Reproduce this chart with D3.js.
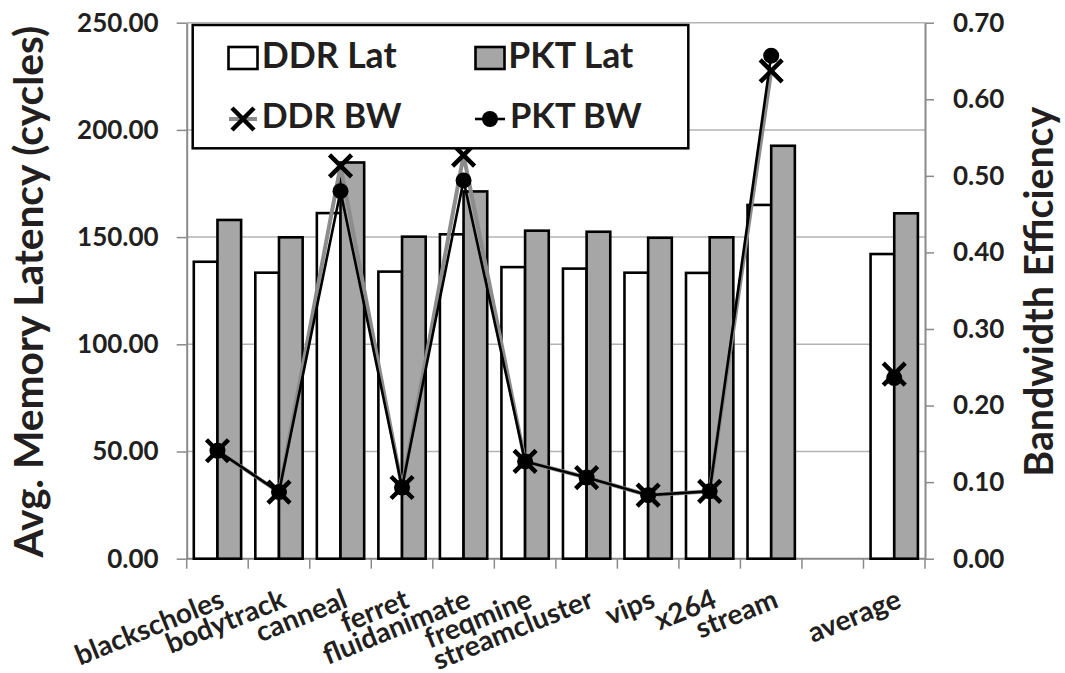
<!DOCTYPE html>
<html>
<head>
<meta charset="utf-8">
<script src="https://cdn.jsdelivr.net/npm/d3@7"></script>
<style>
  body { margin: 0; background: #fff; }
  svg { display: block; }
  text { font-family: Lato, "Open Sans", sans-serif; font-weight: 700; fill: #231f20; }
</style>
</head>
<body>
<svg id="chart" width="1065" height="673"></svg>
<script>
// Benchmarks (one empty slot separates the suite from the average)
const categories = ["blackscholes", "bodytrack", "canneal", "ferret", "fluidanimate",
  "freqmine", "streamcluster", "vips", "x264", "stream", "", "average"];

// Average memory latency, cycles (left axis)
const ddrLat = [138.5, 133.4, 161.2, 133.9, 151.3, 136.0, 135.3, 133.4, 133.3, 165.0, null, 142.1];
const pktLat = [158.0, 149.9, 184.8, 150.2, 171.3, 153.0, 152.5, 149.7, 149.9, 192.6, null, 161.1];

// Bandwidth efficiency (right axis)
const ddrBW = [0.141, 0.087, 0.513, 0.093, 0.527, 0.127, 0.106, 0.083, 0.088, 0.637, null, 0.241];
const pktBW = [0.141, 0.087, 0.480, 0.093, 0.494, 0.127, 0.106, 0.083, 0.088, 0.657, null, 0.236];

const latTicks = [0, 50, 100, 150, 200, 250];
const bwTicks = [0, 0.1, 0.2, 0.3, 0.4, 0.5, 0.6, 0.7];

const seriesNames = { ddrLat: "DDR Lat", pktLat: "PKT Lat", ddrBW: "DDR BW", pktBW: "PKT BW" };

const svg = d3.select("#chart");
const plot = { left: 186.7, right: 925, top: 22.7, bottom: 558.7 };

const gridColor = "#b3b3b3";
const axisColor = "#8a8a8a";
const barFill = { ddr: "#ffffff", pkt: "#a6a6a6" };

const x = d3.scaleBand().domain(d3.range(categories.length)).range([plot.left, plot.right]).padding(0);
const sub = d3.scaleBand().domain(["ddr", "pkt"]).range([0, x.bandwidth()]).paddingInner(0).paddingOuter(0.3);
const yL = d3.scaleLinear().domain([0, 250]).range([plot.bottom, plot.top]);
const yR = d3.scaleLinear().domain([0, 0.7]).range([plot.bottom, plot.top]);

// horizontal gridlines
svg.append("g").selectAll("line").data(latTicks.filter(d => d > 0)).join("line")
  .attr("x1", plot.left).attr("x2", plot.right)
  .attr("y1", d => yL(d)).attr("y2", d => yL(d))
  .attr("stroke", gridColor).attr("stroke-width", 1.5);

// left axis
const gL = svg.append("g").attr("transform", `translate(${plot.left},0)`)
  .call(d3.axisLeft(yL).tickValues(latTicks).tickFormat(d3.format(".2f"))
    .tickSize(10).tickSizeOuter(0).tickPadding(18));
// right axis
const gR = svg.append("g").attr("transform", `translate(${plot.right},0)`)
  .call(d3.axisRight(yR).tickValues(bwTicks).tickFormat(d3.format(".2f"))
    .tickSize(9).tickSizeOuter(0).tickPadding(19));
[gL, gR].forEach(g => {
  g.select(".domain").attr("stroke", axisColor).attr("stroke-width", 2);
  g.selectAll(".tick line").attr("stroke", axisColor).attr("stroke-width", 1.5);
  g.selectAll(".tick text").attr("font-size", 26).attr("font-family", null).attr("fill", "#231f20");
});

// bottom axis with tick marks at category boundaries
const gB = svg.append("g");
gB.append("line").attr("x1", plot.left).attr("x2", plot.right)
  .attr("y1", plot.bottom).attr("y2", plot.bottom)
  .attr("stroke", axisColor).attr("stroke-width", 2);
const bounds = d3.range(categories.length).map(i => x(i)).concat([x.range()[1]]);
gB.selectAll("line.t").data(bounds).join("line").attr("class", "t")
  .attr("x1", d => d).attr("x2", d => d)
  .attr("y1", plot.bottom).attr("y2", plot.bottom + 10)
  .attr("stroke", axisColor).attr("stroke-width", 1.5);

// bars
const barData = [];
categories.forEach((c, i) => {
  if (ddrLat[i] != null) barData.push({ i, key: "ddr", v: ddrLat[i] });
  if (pktLat[i] != null) barData.push({ i, key: "pkt", v: pktLat[i] });
});
svg.append("g").selectAll("rect").data(barData).join("rect")
  .attr("x", d => x(d.i) + sub(d.key))
  .attr("width", sub.bandwidth())
  .attr("y", d => yL(d.v))
  .attr("height", d => yL(0) - yL(d.v))
  .attr("fill", d => barFill[d.key])
  .attr("stroke", "#000").attr("stroke-width", 2.6);

// bandwidth lines and markers
const cx = i => x(i) + x.bandwidth() / 2;
const line = d3.line().defined(d => d.v != null).x(d => cx(d.i)).y(d => yR(d.v));
const xMark = s => `M${-s},${-s}L${s},${s}M${-s},${s}L${s},${-s}`;

const ddrPts = ddrBW.map((v, i) => ({ i, v }));
const pktPts = pktBW.map((v, i) => ({ i, v }));

svg.append("path").datum(ddrPts).attr("d", line)
  .attr("fill", "none").attr("stroke", "#8c8c8c").attr("stroke-width", 4);
svg.append("g").selectAll("path").data(ddrPts.filter(d => d.v != null)).join("path")
  .attr("transform", d => `translate(${cx(d.i)},${yR(d.v)})`)
  .attr("d", xMark(11)).attr("stroke", "#000").attr("stroke-width", 4.5).attr("fill", "none");

svg.append("path").datum(pktPts).attr("d", line)
  .attr("fill", "none").attr("stroke", "#000").attr("stroke-width", 2.6);
svg.append("g").selectAll("circle").data(pktPts.filter(d => d.v != null)).join("circle")
  .attr("cx", d => cx(d.i)).attr("cy", d => yR(d.v)).attr("r", 8).attr("fill", "#000");

// category labels, rotated, right end under each category centre
svg.append("g").selectAll("text").data(categories.map((c, i) => ({ c, i })).filter(d => d.c)).join("text")
  .attr("transform", d => `translate(${cx(d.i) + 1},588) rotate(-22)`)
  .attr("text-anchor", "end").attr("dy", "0.72em")
  .attr("font-size", 28)
  .text(d => d.c);

// size a text so that it spans the given length
function fitLength(sel, len) {
  const base = parseFloat(sel.attr("font-size"));
  const w = sel.node().getComputedTextLength();
  sel.attr("font-size", base * len / w);
}

// axis titles
const tL = svg.append("text")
  .attr("transform", `translate(42.5,${(plot.top + plot.bottom) / 2 + 1}) rotate(-90)`)
  .attr("text-anchor", "middle").attr("font-size", 36)
  .text("Avg. Memory Latency (cycles)");
fitLength(tL, 532);
const tR = svg.append("text")
  .attr("transform", `translate(1053,${(plot.top + plot.bottom) / 2 + 1}) rotate(-90)`)
  .attr("text-anchor", "middle").attr("font-size", 36)
  .text("Bandwidth Efficiency");
fitLength(tR, 370);

// legend
const lg = svg.append("g");
lg.append("rect").attr("x", 192.7).attr("y", 25).attr("width", 495.6).attr("height", 123.3)
  .attr("fill", "#fff").attr("stroke", "#000").attr("stroke-width", 2.5);
const legendItems = [
  { key: "ddrLat", sx: 243, sy: 58, tx: 261.7, ty: 68.3, len: 135 },
  { key: "pktLat", sx: 490, sy: 58, tx: 508.3, ty: 68.3, len: 125 },
  { key: "ddrBW", sx: 243, sy: 119, tx: 261.7, ty: 128.3, len: 140 },
  { key: "pktBW", sx: 490, sy: 119, tx: 510, ty: 128.3, len: 131.7 }
];
legendItems.forEach(it => {
  const g = lg.append("g");
  if (it.key === "ddrLat" || it.key === "pktLat") {
    g.append("rect").attr("x", it.sx - 14.5).attr("y", it.sy - 11).attr("width", 29).attr("height", 22)
      .attr("fill", it.key === "ddrLat" ? barFill.ddr : barFill.pkt)
      .attr("stroke", "#000").attr("stroke-width", 2.6);
  } else if (it.key === "ddrBW") {
    g.append("line").attr("x1", it.sx - 14).attr("x2", it.sx + 14).attr("y1", it.sy).attr("y2", it.sy)
      .attr("stroke", "#8c8c8c").attr("stroke-width", 4);
    g.append("path").attr("transform", `translate(${it.sx},${it.sy})`).attr("d", xMark(11))
      .attr("stroke", "#000").attr("stroke-width", 4.5).attr("fill", "none");
  } else {
    g.append("line").attr("x1", it.sx - 15).attr("x2", it.sx + 15).attr("y1", it.sy).attr("y2", it.sy)
      .attr("stroke", "#000").attr("stroke-width", 2.6);
    g.append("circle").attr("cx", it.sx).attr("cy", it.sy).attr("r", 8).attr("fill", "#000");
  }
  const t = g.append("text").attr("x", it.tx).attr("y", it.ty).attr("font-size", 36).text(seriesNames[it.key]);
  fitLength(t, it.len);
});
</script>
</body>
</html>
